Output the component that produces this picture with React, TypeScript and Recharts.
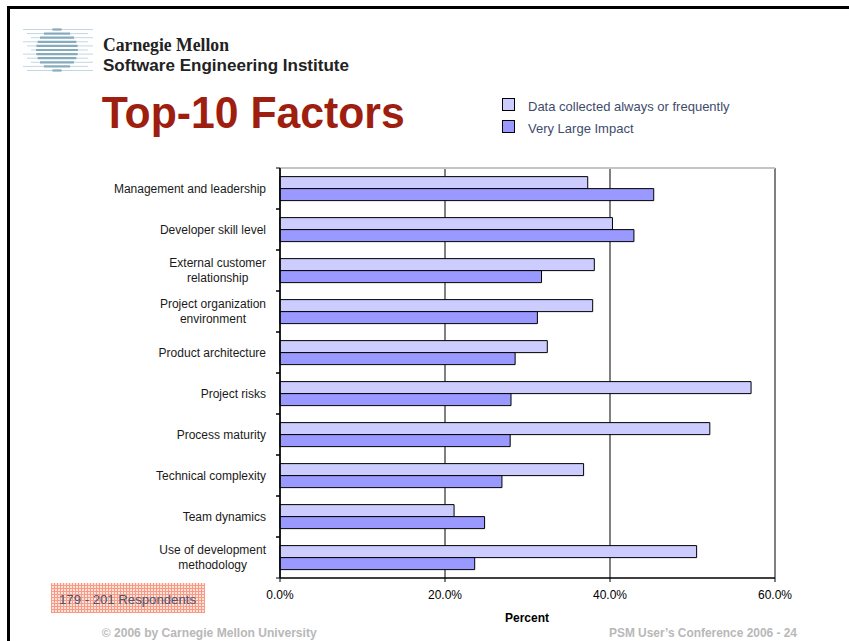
import React from "react";
import { BarChart, Bar, XAxis, YAxis, CartesianGrid, Legend } from "recharts";

// Factor names, "\n" marks where the slide wraps the label
const FACTORS = [
  "Management and leadership",
  "Developer skill level",
  "External customer\nrelationship",
  "Project organization\nenvironment",
  "Product architecture",
  "Project risks",
  "Process maturity",
  "Technical complexity",
  "Team dynamics",
  "Use of development\nmethodology",
];

const COLLECTED = [37.3, 40.3, 38.1, 37.9, 32.4, 57.1, 52.1, 36.8, 21.1, 50.5];
const IMPACT = [45.3, 42.9, 31.7, 31.2, 28.5, 28.0, 27.9, 26.9, 24.8, 23.6];

const SERIES_NAMES = ["Data collected always or frequently", "Very Large Impact"];
const X_TICKS = [0, 20, 40, 60];

const FONT = '"Liberation Sans", Arial, sans-serif';

const data = FACTORS.map((factor, i) => ({
  factor,
  collected: COLLECTED[i],
  impact: IMPACT[i],
}));

let measureCtx: CanvasRenderingContext2D | null = null;
function textWidth(s: string) {
  if (!measureCtx) measureCtx = document.createElement("canvas").getContext("2d");
  if (!measureCtx) return s.length * 6;
  measureCtx.font = `12px ${FONT}`;
  return measureCtx.measureText(s).width;
}

function CategoryTick(props: any) {
  const { x, y, payload, height, visibleTicksCount } = props;
  const half =
    height && visibleTicksCount ? height / visibleTicksCount / 2 : payload.offset || 0;
  const lines = String(payload.value).split("\n");
  const right = x - 14;
  let ax = right;
  let anchor: "end" | "middle" = "end";
  if (lines.length > 1) {
    const w = Math.max(...lines.map(textWidth));
    ax = right - w / 2;
    anchor = "middle";
  }
  return (
    <g>
      <line x1={x - 4} x2={x} y1={y - half} y2={y - half} stroke="#000" />
      <line x1={x - 4} x2={x} y1={y + half} y2={y + half} stroke="#000" />
      <text x={ax} textAnchor={anchor} fontSize={12} fill="#1a1a1a">
        {lines.map((l, i) => (
          <tspan key={i} x={ax} y={y + (i - (lines.length - 1) / 2) * 15} dy="0.36em">
            {l}
          </tspan>
        ))}
      </text>
    </g>
  );
}

function LegendBox({ payload }: any) {
  return (
    <div style={{ fontFamily: FONT }}>
      {(payload || []).map((p: any) => (
        <div key={p.value} style={{ display: "flex", alignItems: "flex-start", height: 22 }}>
          <span
            style={{
              width: 13,
              height: 13,
              marginTop: 4,
              boxSizing: "border-box",
              border: "1px solid #000",
              background: p.color,
              display: "inline-block",
            }}
          />
          <span
            style={{
              marginLeft: 13,
              fontSize: 13,
              lineHeight: "22px",
              color: "#3e4c6b",
              position: "relative",
              top: 2,
            }}
          >
            {p.value}
          </span>
        </div>
      ))}
    </div>
  );
}

function Logo() {
  const stripes = [];
  for (let i = 0; i < 11; i++) {
    const y = 29.5 + i * 4.1;
    const dy = y - 50;
    const r = 21;
    const half = Math.sqrt(Math.max(0, r * r - dy * dy));
    stripes.push(
      <g key={i}>
        <line x1={23 + (i % 3) * 4} x2={93 - (i % 2) * 5} y1={y} y2={y} stroke="#c3d7e0" strokeWidth={1} />
        <line x1={57 - half} x2={57 + half} y1={y} y2={y} stroke="#86abbd" strokeWidth={2.2} />
      </g>
    );
  }
  return <g>{stripes}</g>;
}

export default function App() {
  return (
    <div
      style={{
        position: "absolute",
        left: 0,
        top: 0,
        width: 849,
        height: 641,
        background: "#fff",
        fontFamily: FONT,
        overflow: "hidden",
      }}
    >
      <div style={{ position: "absolute", left: 0, top: 0 }}>
        <BarChart
          layout="vertical"
          width={849}
          height={641}
          data={data}
          margin={{ top: 167, right: 74, bottom: 23, left: 0 }}
          barCategoryGap="21%"
          barGap={0}
        >
          <CartesianGrid horizontal={false} stroke="#808080" strokeWidth={2} />
          <XAxis
            type="number"
            domain={[0, 60]}
            ticks={X_TICKS}
            tickFormatter={(v: number) => `${v.toFixed(1)}%`}
            height={40}
            tickSize={4}
            tickMargin={8}
            tick={{ fontSize: 12, fill: "#000" }}
            axisLine={{ stroke: "#000", strokeWidth: 1.5 }}
            tickLine={{ stroke: "#000" }}
          />
          <XAxis
            xAxisId="top"
            orientation="top"
            type="number"
            domain={[0, 60]}
            ticks={X_TICKS}
            height={1}
            tick={false}
            tickLine={false}
            axisLine={{ stroke: "#c4c4c4", strokeWidth: 2 }}
          />
          <YAxis
            type="category"
            dataKey="factor"
            width={280}
            interval={0}
            tickLine={false}
            tickSize={0}
            tickMargin={0}
            tick={<CategoryTick />}
            axisLine={{ stroke: "#000", strokeWidth: 1.5 }}
          />
          <Legend
            layout="vertical"
            align="center"
            verticalAlign="middle"
            wrapperStyle={{ left: 502, top: 94, width: 300 }}
            content={<LegendBox />}
          />
          <Bar
            dataKey="collected"
            name={SERIES_NAMES[0]}
            fill="#ccccff"
            stroke="#000"
            strokeWidth={1}
            isAnimationActive={false}
          />
          <Bar
            dataKey="impact"
            name={SERIES_NAMES[1]}
            fill="#9999ff"
            stroke="#000"
            strokeWidth={1}
            isAnimationActive={false}
          />
        </BarChart>
      </div>

      <svg
        width={849}
        height={641}
        style={{ position: "absolute", left: 0, top: 0, pointerEvents: "none" }}
      >
        <defs>
          <pattern id="resp" width={3} height={3} patternUnits="userSpaceOnUse">
            <rect width={3} height={3} fill="#fde2da" />
            <rect width={3} height={1} fill="#f79a86" />
            <rect width={1} height={3} fill="#f79a86" />
          </pattern>
        </defs>
        {/* slide frame */}
        <rect x={7} y={6} width={842} height={3} fill="#000" />
        <rect x={7} y={6} width={3} height={635} fill="#000" />

        <Logo />
        <text
          x={103}
          y={51}
          fontFamily='"Liberation Serif", "Times New Roman", serif'
          fontWeight="bold"
          fontSize={18}
          fill="#222"
          textLength={126}
          lengthAdjust="spacingAndGlyphs"
        >
          Carnegie Mellon
        </text>
        <text
          x={103}
          y={71}
          fontWeight="bold"
          fontSize={17}
          fill="#222"
          textLength={246}
          lengthAdjust="spacingAndGlyphs"
        >
          Software Engineering Institute
        </text>

        <text
          x={101.7}
          y={128.3}
          fontWeight="bold"
          fontSize={45}
          fill="#9e1e10"
          textLength={303}
          lengthAdjust="spacingAndGlyphs"
        >
          Top-10 Factors
        </text>

        <rect x={51} y={583} width={154} height={30} fill="url(#resp)" />
        <text
          x={59}
          y={603.5}
          fontSize={12.5}
          fill="#4a5672"
          textLength={137}
          lengthAdjust="spacingAndGlyphs"
        >
          179 - 201 Respondents
        </text>

        <text x={527} y={622} textAnchor="middle" fontWeight="bold" fontSize={12} fill="#000">
          Percent
        </text>

        <text
          x={101.7}
          y={637}
          fontWeight="bold"
          fontSize={12.5}
          fill="#b8b8b8"
          textLength={215}
          lengthAdjust="spacingAndGlyphs"
        >
          © 2006 by Carnegie Mellon University
        </text>
        <text
          x={797}
          y={637}
          textAnchor="end"
          fontWeight="bold"
          fontSize={12.5}
          fill="#b8b8b8"
          textLength={188}
          lengthAdjust="spacingAndGlyphs"
        >
          PSM User’s Conference 2006 - 24
        </text>
      </svg>
    </div>
  );
}
